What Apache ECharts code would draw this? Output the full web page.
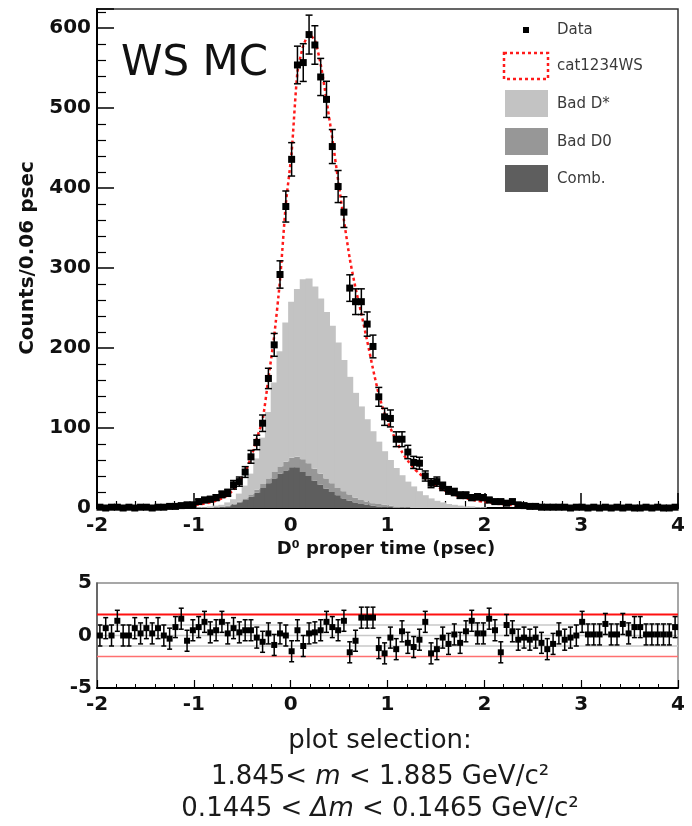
<!DOCTYPE html>
<html><head><meta charset="utf-8">
<script src="https://cdn.jsdelivr.net/npm/echarts/dist/echarts.min.js"></script>
<style>html,body{margin:0;padding:0;background:#fff}#c{width:692px;height:826px}</style>
</head><body><div id="c"></div>
<script>
// ---- data ----
const xMin = -2, xMax = 4, binWidth = 0.06;
const xTickStep = 1;
const yMainMax = 624, yMainStep = 100;
const pullMin = -5, pullMax = 5, pullStep = 5;

const dataCounts = [
  1,0,1,1,0,1,0,1,1,0,
  1,1,2,2,3,4,4,8,10,11,
  13,17,19,29,33,45,64,82,106,162,
  204,292,377,436,554,557,592,579,539,511,
  452,402,370,275,258,258,230,202,139,114,
  112,86,86,70,57,56,40,31,33,27,
  22,20,16,16,13,14,13,10,8,8,
  6,8,4,3,2,2,1,1,1,1,
  1,0,1,1,0,1,0,1,0,1,
  0,1,0,0,1,0,1,0,0,1
];
const fitCurve = [
  0.4,0.4,0.5,0.5,0.5,0.6,0.6,0.7,0.7,0.9,
  1.0,1.2,1.5,1.9,2.3,2.9,3.6,4.5,5.5,7,
  9,12,16,23,33,45,63,87,110,162,
  215,285,380,445,545,578,592,585,555,510,
  462,410,360,312,275,243,209,174,142,118,
  100,84,70,59,50,43,37,32,27,23,
  20,17,14,12,10.5,9,8,6.8,5.8,5,
  4.3,3.7,3.1,2.7,2.3,2,1.7,1.5,1.3,1.2,
  1.1,1.0,1.0,0.9,0.9,0.9,0.8,0.8,0.8,0.8,
  0.7,0.7,0.7,0.7,0.7,0.6,0.6,0.6,0.6,0.6
];
const comb = [
  0,0,0,0,0,0,0,0,0,0,
  0,0,0,0,0,0,0,0,0,0,
  0,1,2,4,7,10,14,19,25,31,
  37,43,47,51,51,45,40,34,29,24,
  20,16,12,9,7,5,4,3,2,1,
  1,0,0,0,0,0,0,0,0,0,
  0,0,0,0,0,0,0,0,0,0,
  0,0,0,0,0,0,0,0,0,0,
  0,0,0,0,0,0,0,0,0,0,
  0,0,0,0,0,0,0,0,0,0
];
const badD0 = [
  0,0,0,0,0,0,0,0,0,0,
  0,0,0,0,0,0,0,0,0,0,
  1,0,1,1,1,2,3,4,5,6,
  8,9,11,12,13,16,16,15,14,13,
  11,9,9,8,6,5,4,3,3,3,
  2,2,1,1,0,0,0,0,0,0,
  0,0,0,0,0,0,0,0,0,0,
  0,0,0,0,0,0,0,0,0,0,
  0,0,0,0,0,0,0,0,0,0,
  0,0,0,0,0,0,0,0,0,0
];
const badDstar = [
  0,0,0,0,0,0,0,0,0,0,
  0,0,0,0,0,0,0,1,1,2,
  2,3,4,6,10,16,26,39,58,83,
  112,144,174,195,210,225,231,228,219,208,
  197,182,164,147,131,117,103,90,78,67,
  57,48,40,32,27,21,16,12,9,7,
  5,4,3,2,2,1,1,0,0,0,
  0,0,0,0,0,0,0,0,0,0,
  0,0,0,0,0,0,0,0,0,0,
  0,0,0,0,0,0,0,0,0,0
];
const pulls = [
  0,0.7,0,1.4,0,0,0.7,0.2,0.7,0.2,
  0.7,0,-0.3,0.8,1.6,-0.5,0.5,0.8,1.3,0.3,
  0.5,1.3,0.2,0.7,0.3,0.5,0.5,-0.2,-0.6,0.2,
  -0.9,0.2,0,-1.5,0.5,-1.0,0.2,0.3,0.5,1.3,
  0.8,0.5,1.4,-1.6,-0.5,1.7,1.7,1.7,-1.2,-1.7,
  -0.2,-1.3,0.4,-0.7,-1.1,-0.4,1.3,-1.7,-1.3,-0.2,
  -0.8,0.1,-0.7,0.4,1.4,0.2,0.2,1.6,0.5,-1.6,
  1.0,0.4,-0.4,-0.2,-0.4,-0.2,-0.7,-1.3,-0.8,0.2,
  -0.4,-0.2,0,1.3,0.1,0.1,0.1,1.1,0.1,0.1,
  1.1,0.2,0.8,0.8,0.1,0.1,0.1,0.1,0.1,0.8
];
const pullRedLines = [2, -2];
const pullGreyLines = [1, 0, -1];
const legendNames = ['Data', 'cat1234WS', 'Bad D*', 'Bad D0', 'Comb.'];
const plotTitle = 'WS MC';
const xTitle = 'D\u2070 proper time (psec)';
const yTitle = 'Counts/0.06 psec';

// ---- build ----
const FF = '"DejaVu Sans", sans-serif';
const colLight = '#c3c3c3', colMid = '#979797', colDark = '#5e5e5e';
const binCenters = dataCounts.map((_, i) => +(xMin + binWidth * (i + 0.5)).toFixed(3));

// stacked histogram: comb at bottom, then Bad D0, then Bad D* on top
const stackOrder = [['Comb.', comb, colDark], ['Bad D0', badD0, colMid], ['Bad D*', badDstar, colLight]];
const runningBase = dataCounts.map(() => 0);
const histSeries = stackOrder.map(([name, values, color], si) => {
  const items = values.map((v, i) => {
    const base = runningBase[i];
    runningBase[i] = base + v;
    return [+(xMin + binWidth * i).toFixed(3), +(xMin + binWidth * (i + 1)).toFixed(3), base, base + v];
  });
  return {
    type: 'custom', name, xAxisIndex: 0, yAxisIndex: 0, data: items,
    encode: { x: [0, 1], y: [2, 3] }, z: 1 + si * 0.1, zlevel: 0, silent: true,
    renderItem: function (params, api) {
      if (api.value(3) <= api.value(2)) return null;
      const p1 = api.coord([api.value(0), api.value(3)]);
      const p2 = api.coord([api.value(1), api.value(2)]);
      return {
        type: 'rect',
        shape: { x: p1[0] - 0.6, y: p1[1], width: p2[0] - p1[0] + 1.2, height: p2[1] - p1[1] },
        style: { fill: color }
      };
    }
  };
});

function errRender(errFn, half, cap) {
  return function (params, api) {
    const x = api.value(0), y = api.value(1);
    const e = errFn(y);
    const c = api.coord([x, y]);
    const t = api.coord([x, y + e]);
    const b = api.coord([x, y - e]);
    const st = { stroke: '#000', lineWidth: 1.5 };
    const ch = [];
    if (e > 0) {
      ch.push({ type: 'line', shape: { x1: c[0], y1: t[1], x2: c[0], y2: b[1] }, style: st });
      ch.push({ type: 'line', shape: { x1: c[0] - cap, y1: t[1], x2: c[0] + cap, y2: t[1] }, style: st });
      ch.push({ type: 'line', shape: { x1: c[0] - cap, y1: b[1], x2: c[0] + cap, y2: b[1] }, style: st });
    }
    ch.push({ type: 'rect', shape: { x: c[0] - half, y: c[1] - half, width: 2 * half, height: 2 * half }, style: { fill: '#000' } });
    return { type: 'group', children: ch };
  };
}

const labelFont = { fontFamily: FF, fontWeight: 'bold', fontSize: 20, color: '#111' };

const series = histSeries.concat([
  {
    type: 'line', name: 'cat1234WS', xAxisIndex: 0, yAxisIndex: 0,
    data: binCenters.map((x, i) => [x, fitCurve[i]]),
    symbol: 'none', smooth: 0.2,
    lineStyle: { color: '#ff1a1a', width: 2.5, type: [3, 3] }, z: 3, silent: true
  },
  {
    type: 'custom', name: 'Data', xAxisIndex: 0, yAxisIndex: 0,
    data: binCenters.map((x, i) => [x, dataCounts[i]]),
    encode: { x: 0, y: 1 },
    renderItem: errRender(v => Math.sqrt(Math.max(v, 0)), 3.5, 3.5), z: 5, silent: true
  }
]);
pullGreyLines.forEach(v => series.push({
  type: 'line', xAxisIndex: 1, yAxisIndex: 1, data: [[xMin, v], [xMax, v]], symbol: 'none',
  lineStyle: { color: '#c8c8c8', width: 1.5 }, z: 1, silent: true
}));
pullRedLines.forEach(v => series.push({
  type: 'line', xAxisIndex: 1, yAxisIndex: 1, data: [[xMin, v], [xMax, v]], symbol: 'none',
  lineStyle: { color: v > 0 ? '#ff1010' : '#ff7070', width: v > 0 ? 2 : 1.6 }, z: 2, silent: true
}));
series.push({
  type: 'custom', name: 'pull', xAxisIndex: 1, yAxisIndex: 1,
  data: binCenters.map((x, i) => [x, pulls[i]]),
  encode: { x: 0, y: 1 },
  renderItem: errRender(() => 1, 3, 2.5), z: 5, silent: true
});

const legendY = [30, 66, 104, 142, 179];
const graphic = [
  { type: 'text', x: 121, y: 64, style: { text: plotTitle, font: 'normal 42px ' + FF, fill: '#111', align: 'left', verticalAlign: 'middle' } },
  { type: 'text', x: 28, y: 258, rotation: Math.PI / 2, style: { text: yTitle, font: 'bold 20px ' + FF, fill: '#111', align: 'center', verticalAlign: 'middle' } },
  { type: 'text', x: 386, y: 549, style: { text: xTitle, font: 'bold 18px ' + FF, fill: '#111', align: 'center', verticalAlign: 'middle' } },
  // legend
  { type: 'rect', shape: { x: 523, y: legendY[0] - 3, width: 6, height: 6 }, style: { fill: '#000' } },
  { type: 'rect', shape: { x: 504, y: 53, width: 44, height: 26 }, style: { fill: 'none', stroke: '#ff1a1a', lineWidth: 2.5, lineDash: [3, 3] } },
  { type: 'rect', shape: { x: 505, y: 90, width: 43, height: 27 }, style: { fill: colLight } },
  { type: 'rect', shape: { x: 505, y: 128, width: 43, height: 27 }, style: { fill: colMid } },
  { type: 'rect', shape: { x: 505, y: 165, width: 43, height: 27 }, style: { fill: colDark } }
];
legendNames.forEach((n, i) => graphic.push({
  type: 'text', x: 557, y: legendY[i],
  style: { text: n, font: 'normal 15px ' + FF, fill: '#3a3a3a', align: 'left', verticalAlign: 'middle' }
}));
const nStyle = { font: 'normal 26px ' + FF, fill: '#1a1a1a' };
const iStyle = { font: 'italic 26px ' + FF, fill: '#1a1a1a' };
graphic.push(
  { type: 'text', x: 380, y: 741, style: { text: 'plot selection:', font: 'normal 26px ' + FF, fill: '#1a1a1a', align: 'center', verticalAlign: 'middle' } },
  { type: 'text', x: 380, y: 777, style: { text: '{n|1.845< }{i|m}{n| < 1.885 GeV/c\u00b2}', rich: { n: nStyle, i: iStyle }, align: 'center', verticalAlign: 'middle' } },
  { type: 'text', x: 380, y: 809, style: { text: '{n|0.1445 < }{i|\u0394m}{n| < 0.1465 GeV/c\u00b2}', rich: { n: nStyle, i: iStyle }, align: 'center', verticalAlign: 'middle' } }
);

const chart = echarts.init(document.getElementById('c'), null, { renderer: 'canvas' });
chart.setOption({
  animation: false,
  backgroundColor: '#fff',
  grid: [
    { left: 97, top: 9, width: 581, height: 499, show: true, borderColor: '#333', borderWidth: 1.5, outerBoundsMode: 'none', containLabel: false },
    { left: 97, top: 583, width: 581, height: 105, show: true, borderColor: '#8a8a8a', borderWidth: 1.5, outerBoundsMode: 'none', containLabel: false }
  ],
  xAxis: [
    {
      type: 'value', gridIndex: 0, min: xMin, max: xMax, interval: xTickStep,
      axisLine: { show: true, onZero: false, lineStyle: { color: '#000', width: 2 } },
      axisTick: { show: true, inside: true, length: 15, lineStyle: { color: '#000', width: 1.5 } },
      minorTick: { show: true, splitNumber: 5, length: 7, lineStyle: { color: '#000', width: 1.2 } },
      axisLabel: Object.assign({ margin: 8 }, labelFont),
      splitLine: { show: false }
    },
    {
      type: 'value', gridIndex: 1, min: xMin, max: xMax, interval: xTickStep,
      axisLine: { show: true, onZero: false, lineStyle: { color: '#000', width: 2 } },
      axisTick: { show: true, inside: true, length: 8, lineStyle: { color: '#000', width: 1.2 } },
      minorTick: { show: true, splitNumber: 5, length: 4, lineStyle: { color: '#000', width: 1 } },
      axisLabel: Object.assign({ margin: 7 }, labelFont),
      splitLine: { show: false }
    }
  ],
  yAxis: [
    {
      type: 'value', gridIndex: 0, min: 0, max: yMainMax, interval: yMainStep,
      axisLine: { show: true, onZero: false, lineStyle: { color: '#000', width: 2 } },
      axisTick: { show: true, inside: true, length: 17, lineStyle: { color: '#000', width: 1.5 } },
      minorTick: { show: true, splitNumber: 5, length: 9, lineStyle: { color: '#000', width: 1.2 } },
      axisLabel: Object.assign({ margin: 6, formatter: v => (v % yMainStep === 0 ? String(v) : '') }, labelFont),
      splitLine: { show: false }
    },
    {
      type: 'value', gridIndex: 1, min: pullMin, max: pullMax, interval: pullStep,
      axisLine: { show: true, onZero: false, lineStyle: { color: '#555', width: 1.5 } },
      axisTick: { show: false },
      axisLabel: Object.assign({ margin: 5 }, labelFont),
      splitLine: { show: false }
    }
  ],
  series,
  graphic
});
</script>
</body></html>
